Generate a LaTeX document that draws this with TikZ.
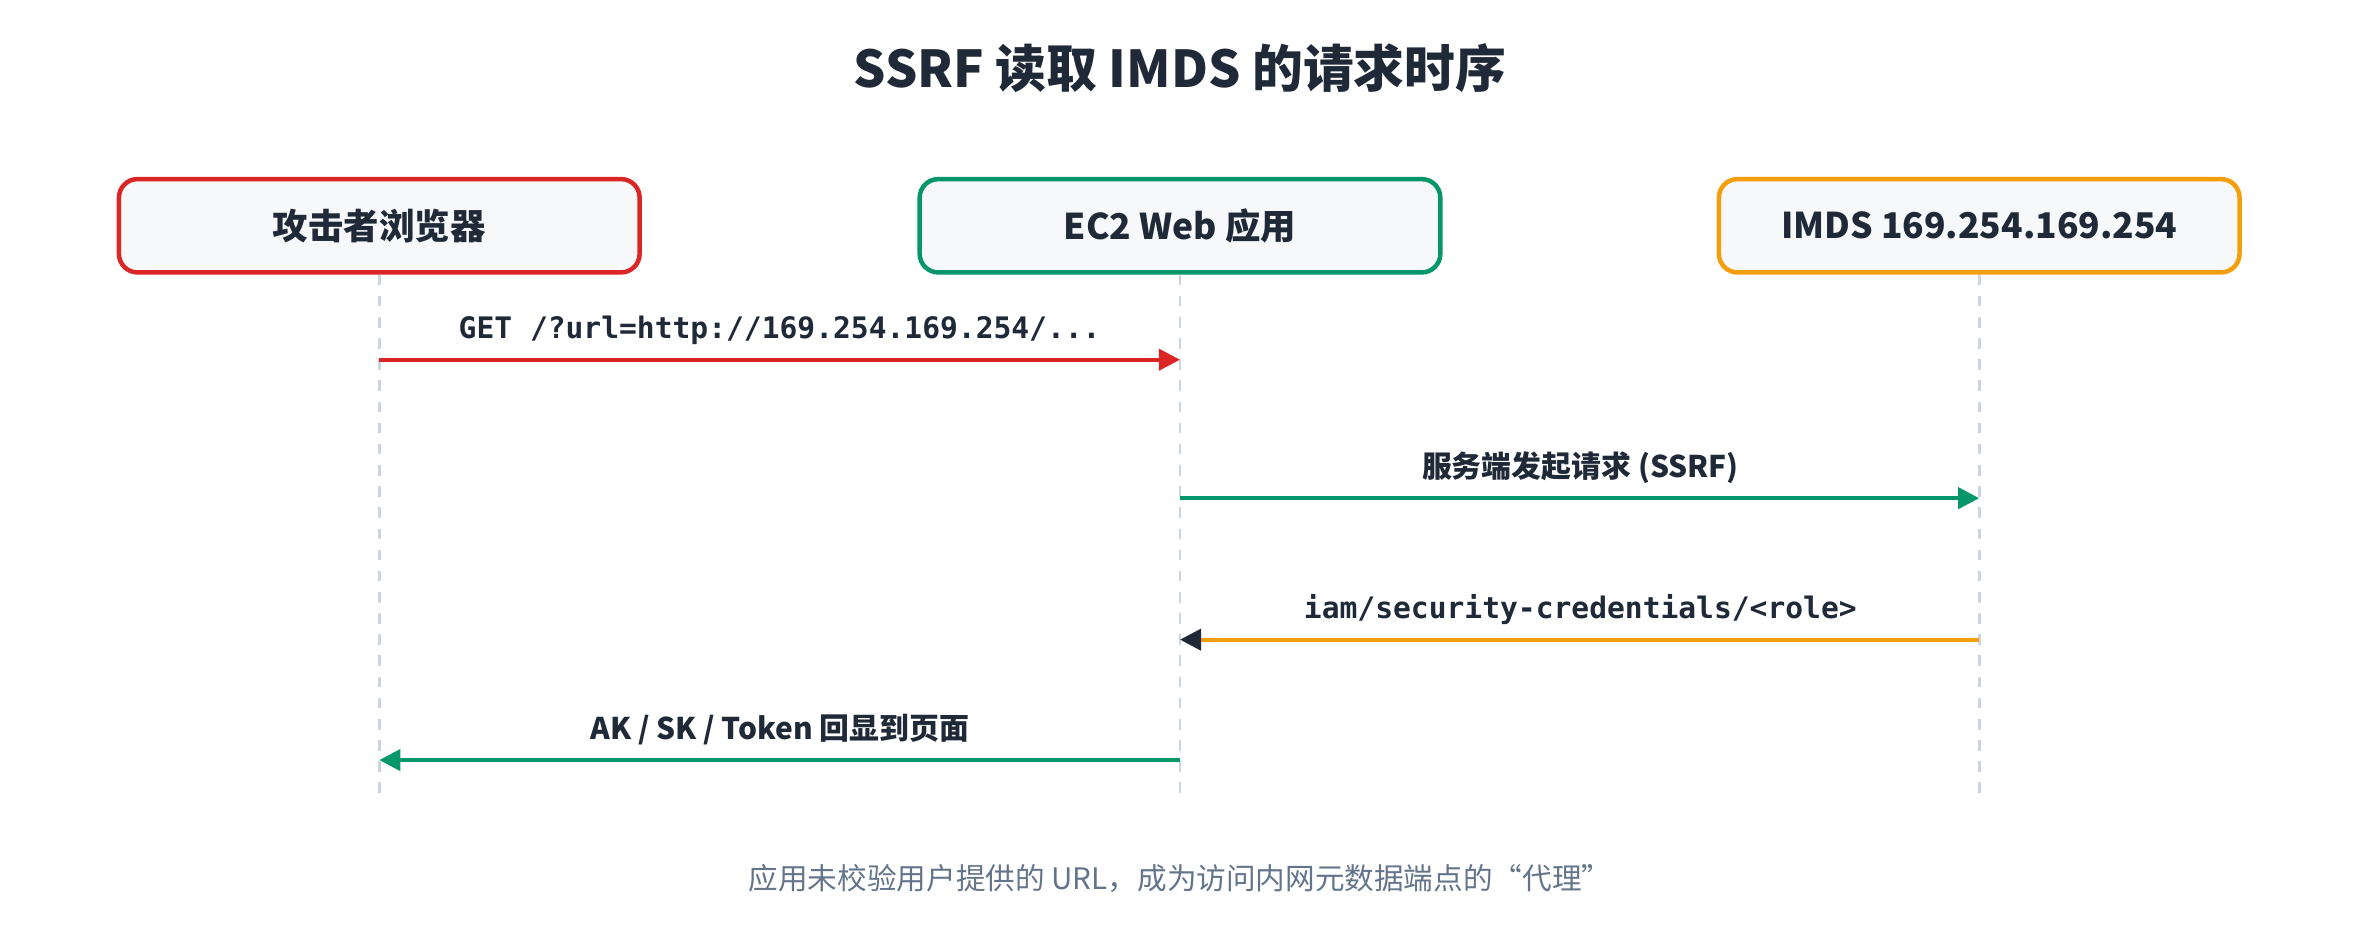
\documentclass[tikz,border=0pt]{standalone}
\usepackage{fontspec}
\setmainfont{Noto Sans CJK SC}
\newfontfamily\monof{DejaVu Sans Mono}
\usetikzlibrary{arrows.meta,calc}
\definecolor{cred}{HTML}{DC2626}
\definecolor{cgreen}{HTML}{059669}
\definecolor{corange}{HTML}{F59E0B}
\definecolor{cbox}{HTML}{F6F8FA}
\definecolor{cline}{HTML}{CBD5E1}
\definecolor{ctext}{HTML}{1F2937}
\definecolor{cfoot}{HTML}{64748B}
\begin{document}
\begin{tikzpicture}[x=0.02cm,y=-0.02cm,
  actor/.style={draw, line width=1.7pt, rounded corners=7pt, fill=cbox, minimum width=6.92cm, minimum height=1.24cm, font=\bfseries\fontsize{13.4}{15}\selectfont, text=ctext},
  life/.style={cline, line width=1.1pt, dash pattern=on 4pt off 4pt},
  msg/.style={line width=1.5pt, -{Triangle[length=8pt,width=8pt]}},
  lbl/.style={font=\bfseries\fontsize{11.3}{13}\selectfont, text=ctext, anchor=base},
  mlbl/.style={font=\monof\bfseries\fontsize{11.2}{13}\selectfont, text=ctext, anchor=base}]
\useasboundingbox (0,0) rectangle (1568,625);
\node[font=\bfseries\fontsize{19.2}{22}\selectfont, text=ctext] (title) at (784,45) {SSRF 读取 IMDS 的请求时序};
\node[actor, draw=cred] (a) at (252,150) {攻击者浏览器};
\node[actor, draw=cgreen] (b) at (784,150) {EC2 Web 应用};
\node[actor, draw=corange] (c) at (1315,150) {IMDS 169.254.169.254};
\coordinate (ae) at (252,530); \coordinate (be) at (784,530); \coordinate (ce) at (1315,530);
\draw[life] (a.south) -- (ae);
\draw[life] (b.south) -- (be);
\draw[life] (c.south) -- (ce);
\coordinate (a1) at (252,239); \coordinate (b1) at (784,239);
\coordinate (b2) at (784,331); \coordinate (c2) at (1315,331);
\coordinate (c3) at (1315,425); \coordinate (b3) at (784,425);
\coordinate (b4) at (784,505); \coordinate (a4) at (252,505);
\coordinate (b3t) at (797,425);
\draw[msg, cred] (a1) -- (b1);
\node[mlbl] (l1) at (518,225) {GET /?url=http://169.254.169.254/...};
\draw[msg, cgreen] (b2) -- (c2);
\node[lbl] (l2) at (1050,317) {服务端发起请求 (SSRF)};
\draw[line width=1.5pt, corange] (c3) -- (b3t);
\draw[-{Triangle[length=8pt,width=8pt]}, ctext, line width=1.5pt] (b3t) -- (b3);
\node[mlbl] (l3) at (1050,411) {iam/security-credentials/<role>};
\draw[msg, cgreen] (b4) -- (a4);
\node[lbl] (l4) at (518,491) {AK / SK / Token 回显到页面};
\node[font=\fontsize{11.2}{13}\selectfont, text=cfoot] (foot) at (784,584) {应用未校验用户提供的 URL，成为访问内网元数据端点的“代理”};
\end{tikzpicture}
\end{document}
